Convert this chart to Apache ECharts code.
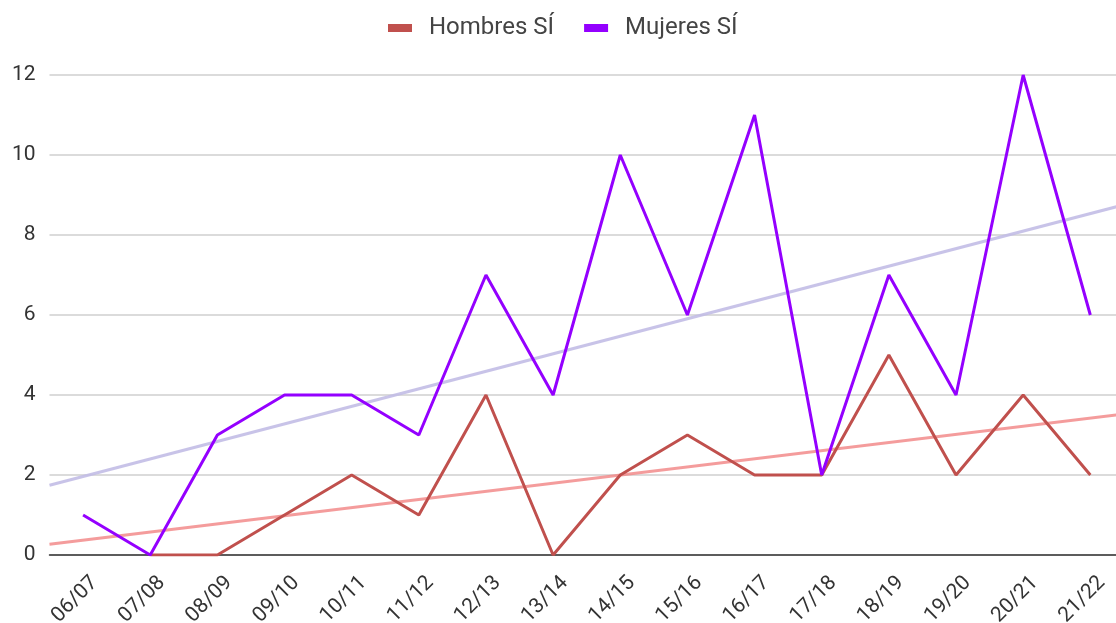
<!DOCTYPE html>
<html>
<head>
<meta charset="utf-8">
<script src="https://cdn.jsdelivr.net/npm/echarts@6/dist/echarts.min.js"></script>
<style>
  html, body { margin: 0; padding: 0; background: #fff; }
  #chart { width: 1116px; height: 623px; }
</style>
</head>
<body>
<div id="chart"></div>
<script>
// Academic years on the x axis
const cursos = ['06/07', '07/08', '08/09', '09/10', '10/11', '11/12', '12/13', '13/14',
                '14/15', '15/16', '16/17', '17/18', '18/19', '19/20', '20/21', '21/22'];
// "Sí" answers per year
const hombresSi = [null, 0, 0, 1, 2, 1, 4, 0, 2, 3, 2, 2, 5, 2, 4, 2];
const mujeresSi = [1, 0, 3, 4, 4, 3, 7, 4, 10, 6, 11, 2, 7, 4, 12, 6];
const yTicks = [0, 2, 4, 6, 8, 10, 12];

// Least-squares linear trend over the non-empty points of a series,
// spanning the full width of the plot (band edges -0.5 .. n-0.5)
function trend(values) {
  const pts = values.map((v, i) => [i, v]).filter(p => p[1] !== null);
  const n = pts.length;
  const mx = pts.reduce((s, p) => s + p[0], 0) / n;
  const my = pts.reduce((s, p) => s + p[1], 0) / n;
  let sxy = 0, sxx = 0;
  pts.forEach(p => { sxy += (p[0] - mx) * (p[1] - my); sxx += (p[0] - mx) * (p[0] - mx); });
  const slope = sxy / sxx;
  const b = my - slope * mx;
  const x0 = -0.5, x1 = cursos.length - 0.5;
  return [[x0, b + slope * x0], [x1, b + slope * x1]];
}

const chart = echarts.init(document.getElementById('chart'));
const font = 'Roboto, "Liberation Sans", Arial, sans-serif';

chart.setOption({
  animation: false,
  textStyle: { fontFamily: font },
  legend: {
    top: 11,
    left: 383,
    itemWidth: 24,
    itemHeight: 8,
    itemGap: 30,
    textStyle: { fontSize: 24, color: '#444', fontFamily: font, padding: [0, 0, 0, 12] },
    data: [
      { name: 'Hombres SÍ', icon: 'rect' },
      { name: 'Mujeres SÍ', icon: 'rect' }
    ]
  },
  grid: { left: 49.5, top: 75, width: 1074.4, height: 480, outerBoundsMode: 'none', containLabel: false },
  xAxis: [
    {
      type: 'category',
      data: cursos,
      boundaryGap: true,
      axisLine: { show: true, lineStyle: { color: '#333', width: 1.5 } },
      axisTick: { show: false },
      axisLabel: {
        rotate: 45, fontSize: 21, color: '#333', margin: 13,
        verticalAlign: 'top', lineHeight: 33, fontFamily: font
      },
      splitLine: { show: false }
    },
    {
      // continuous twin of the category axis, used for the trend lines
      type: 'value',
      min: -0.5,
      max: cursos.length - 0.5,
      show: false,
      splitLine: { show: false }
    }
  ],
  yAxis: {
    type: 'value',
    min: yTicks[0],
    max: yTicks[yTicks.length - 1],
    interval: 2,
    axisLine: { show: false },
    axisTick: { show: false },
    axisLabel: { fontSize: 21, color: '#333', margin: 14, fontFamily: font },
    splitLine: { lineStyle: { color: '#cfcfcf', width: 1.5 } }
  },
  series: [
    {
      name: 'Hombres trend',
      type: 'line',
      xAxisIndex: 1,
      data: trend(hombresSi),
      symbol: 'none',
      silent: true,
      lineStyle: { color: '#f28b8b', width: 3, opacity: 0.85 },
      z: 1
    },
    {
      name: 'Mujeres trend',
      type: 'line',
      xAxisIndex: 1,
      data: trend(mujeresSi),
      symbol: 'none',
      silent: true,
      lineStyle: { color: '#c2bde6', width: 3, opacity: 0.9 },
      z: 1
    },
    {
      name: 'Hombres SÍ',
      type: 'line',
      data: hombresSi,
      symbol: 'none',
      itemStyle: { color: '#c0504d' },
      lineStyle: { color: '#c0504d', width: 3 },
      z: 3
    },
    {
      name: 'Mujeres SÍ',
      type: 'line',
      data: mujeresSi,
      symbol: 'none',
      itemStyle: { color: '#9400ff' },
      lineStyle: { color: '#9400ff', width: 3 },
      z: 4
    }
  ]
});
</script>
</body>
</html>
